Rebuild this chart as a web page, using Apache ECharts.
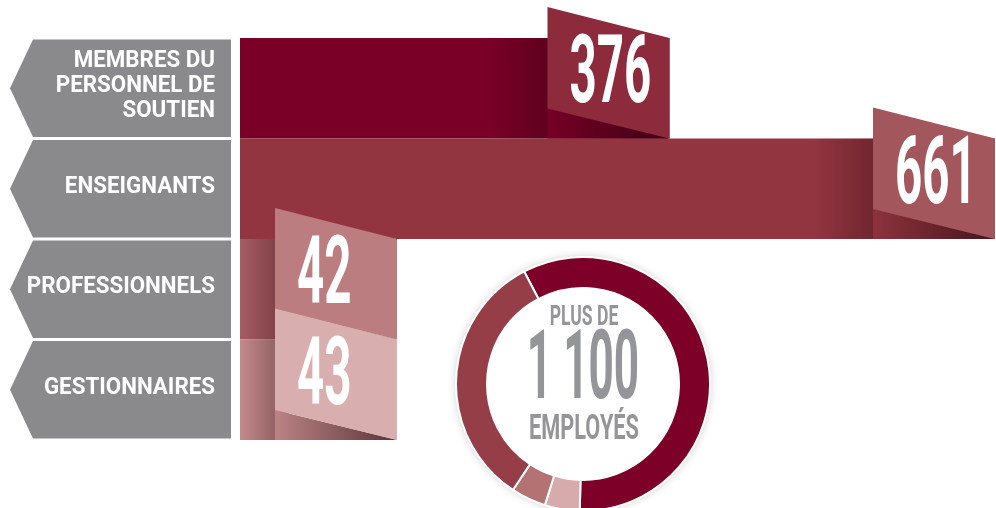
<!DOCTYPE html>
<html>
<head>
<meta charset="utf-8">
<script src="https://cdn.jsdelivr.net/npm/echarts@6/dist/echarts.min.js"></script>
<style>
  html, body { margin: 0; padding: 0; background: #ffffff; }
  #chart { width: 996px; height: 508px; }
</style>
</head>
<body>
<div id="chart"></div>
<script>
// Staff categories and head counts
const categories = ['MEMBRES DU\nPERSONNEL DE\nSOUTIEN', 'ENSEIGNANTS', 'PROFESSIONNELS', 'GESTIONNAIRES'];
const employees = [376, 661, 42, 43];
// Order of the categories around the ring (clockwise)
const ringOrder = [1, 3, 2, 0];
// Text in the middle of the ring
const totalLines = ['PLUS DE', '1 100', 'EMPLOYÉS'];

// Colours
const barColors = ['#7b0028', '#933540', '#a85c63', '#c48a8b'];
const flagColors = ['#8d2a3b', '#a4565d', '#bb7d7f', '#d8aeae'];
const ringColors = ['#7d0029', '#d7abab', '#b47272', '#963e48'];
const panelColor = '#8a8a8c';
const totalColor = '#939598';
const FONT = 'Roboto, "Liberation Sans", sans-serif';

const chart = echarts.init(document.getElementById('chart'), null, { renderer: 'canvas' });

// Grey arrow-shaped panels holding the category names
function renderPanel(params, api) {
  const idx = api.value(1);
  const cy = api.coord([0, idx])[1];
  const h = api.size([0, 1])[1];
  const top = cy - h / 2 + 1.5;
  const bottom = cy + h / 2 - 1.5;
  return {
    type: 'group',
    children: [
      {
        type: 'polygon',
        shape: { points: [[33, top], [231, top], [231, bottom], [33, bottom], [10, (top + bottom) / 2]] },
        style: { fill: panelColor }
      },
      {
        type: 'text',
        x: 215,
        y: cy - 2,
        scaleX: 0.95,
        style: {
          text: categories[idx],
          fill: '#ffffff',
          font: 'bold 23.5px ' + FONT,
          lineHeight: 25,
          align: 'right', verticalAlign: 'middle',
          textAlign: 'right', textVerticalAlign: 'middle'
        }
      }
    ]
  };
}

// Tilted value flag at the end of each bar, with its fold shadow
function renderFlag(params, api) {
  const v = api.value(0);
  const idx = api.value(1);
  const s = api.coord([0, idx]);
  const e = api.coord([v, idx]);
  const h = api.size([0, 1])[1];
  const top = s[1] - h / 2;
  const bottom = s[1] + h / 2;
  const right = Math.max(e[0], s[0] + 157);
  const left = right - 122;
  const fadeFrom = Math.max(s[0], left - 60);
  const children = [];
  if (left > fadeFrom) {
    children.push({
      type: 'rect',
      shape: { x: fadeFrom, y: top, width: left - fadeFrom, height: h },
      style: {
        fill: new echarts.graphic.LinearGradient(0, 0, 1, 0, [
          { offset: 0, color: 'rgba(25,0,8,0)' },
          { offset: 1, color: 'rgba(25,0,8,0.28)' }
        ])
      }
    });
  }
  const fold = [[left, bottom - 30], [right, bottom], [left, bottom]];
  children.push({ type: 'polygon', shape: { points: fold }, style: { fill: barColors[idx] } });
  children.push({
    type: 'polygon',
    shape: { points: fold },
    style: {
      fill: new echarts.graphic.LinearGradient(0, 0, 1, 0, [
        { offset: 0, color: 'rgba(25,0,8,0.05)' },
        { offset: 1, color: 'rgba(25,0,8,0.62)' }
      ])
    }
  });
  children.push({
    type: 'polygon',
    shape: { points: [[left, top - 31], [right, top], [right, bottom], [left, bottom - 30]] },
    style: { fill: flagColors[idx] }
  });
  children.push({
    type: 'text',
    x: left + 22,
    y: (top + bottom) / 2 - 10,
    scaleX: 0.5,
    style: {
      text: String(v),
      fill: '#ffffff',
      font: 'bold 95px ' + FONT,
      align: 'left', verticalAlign: 'middle',
      textAlign: 'left', textVerticalAlign: 'middle'
    }
  });
  return { type: 'group', children: children };
}

const centerX = 583, centerY = 384;

chart.setOption({
  animation: false,
  backgroundColor: '#ffffff',
  grid: { left: 240, right: 1, top: 38, bottom: 68, containLabel: false, outerBoundsMode: 'none' },
  xAxis: { type: 'value', min: 0, max: 661, show: false },
  yAxis: { type: 'category', data: categories, inverse: true, show: false },
  graphic: [
    {
      type: 'circle', z: 1,
      shape: { cx: centerX, cy: centerY, r: 127 },
      style: { fill: '#ffffff', shadowBlur: 9, shadowColor: 'rgba(0,0,0,0.22)' }
    },
    {
      type: 'text', z: 10, x: centerX + 1, y: 318, scaleX: 0.65,
      style: { text: totalLines[0], fill: totalColor, font: 'bold 27px ' + FONT,
        align: 'center', verticalAlign: 'middle', textAlign: 'center', textVerticalAlign: 'middle' }
    },
    {
      type: 'text', z: 10, x: centerX, y: 374, scaleX: 0.46,
      style: { text: totalLines[1], fill: totalColor, font: 'bold 96px ' + FONT,
        align: 'center', verticalAlign: 'middle', textAlign: 'center', textVerticalAlign: 'middle' }
    },
    {
      type: 'text', z: 10, x: centerX + 1, y: 430, scaleX: 0.62,
      style: { text: totalLines[2], fill: totalColor, font: 'bold 35px ' + FONT,
        align: 'center', verticalAlign: 'middle', textAlign: 'center', textVerticalAlign: 'middle' }
    }
  ],
  series: [
    {
      type: 'bar',
      z: 2,
      silent: true,
      barCategoryGap: '0%',
      data: employees.map((v, i) => ({ value: v, itemStyle: { color: barColors[i] } }))
    },
    {
      type: 'custom',
      z: 3,
      silent: true,
      renderItem: renderPanel,
      encode: { x: 0, y: 1 },
      data: categories.map((c, i) => [0, i])
    },
    {
      type: 'custom',
      z: 4,
      silent: true,
      renderItem: renderFlag,
      encode: { x: 0, y: 1 },
      data: employees.map((v, i) => [v, i])
    },
    {
      type: 'pie',
      z: 5,
      silent: true,
      center: [centerX, centerY],
      radius: [96, 127],
      startAngle: 117.6,
      minAngle: 16,
      label: { show: false },
      labelLine: { show: false },
      itemStyle: { borderColor: '#ffffff', borderWidth: 2 },
      data: ringOrder.map((i, k) => ({
        value: employees[i],
        name: categories[i].replace(/\n/g, ' '),
        itemStyle: { color: ringColors[k] }
      }))
    }
  ]
});
</script>
</body>
</html>
